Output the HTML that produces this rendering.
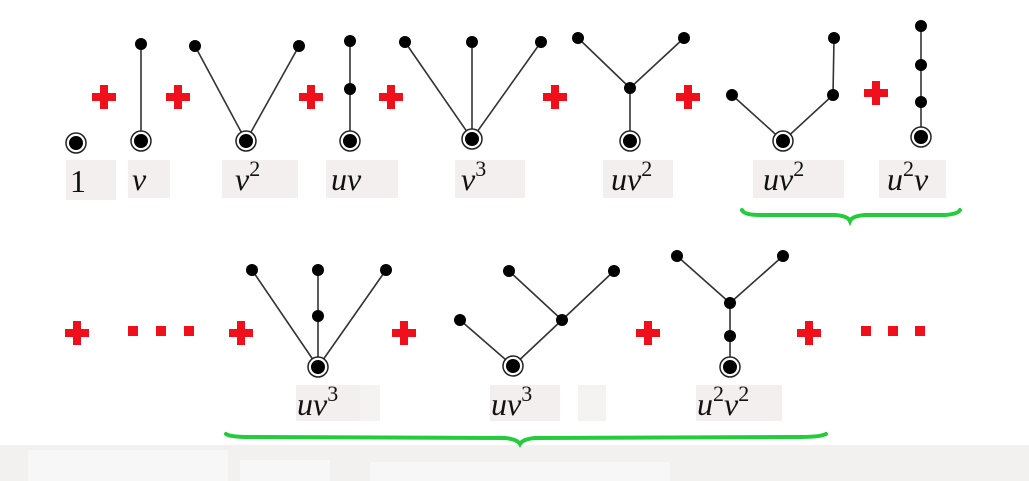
<!DOCTYPE html>
<html><head><meta charset="utf-8"><style>
html,body{margin:0;padding:0;background:#fff;}
svg{display:block;}
text{font-family:"Liberation Serif",serif;font-style:italic;font-size:32px;fill:#111;}
</style></head><body>
<svg width="1029" height="481" viewBox="0 0 1029 481" xmlns="http://www.w3.org/2000/svg">
<defs>
<g id="p"><rect x="-12" y="-4" width="24" height="8" fill="#f0101c"/><rect x="-4" y="-12" width="8" height="24" fill="#f0101c"/></g>
<g id="r"><circle r="10" fill="#fff" stroke="#222" stroke-width="1.5"/><circle r="7" fill="#000"/></g>
<g id="d"><rect x="-5" y="-5" width="10" height="10" fill="#f0101c"/></g>
</defs>
<rect x="0" y="445" width="1029" height="36" fill="#f3f0f0"/>
<rect x="28" y="450" width="200" height="31" fill="#f8f7f7"/>
<rect x="240" y="460" width="90" height="21" fill="#f8f7f7"/>
<rect x="370" y="462" width="300" height="19" fill="#f8f7f7"/>
<g fill="#f2efee">
<rect x="66" y="160" width="50" height="40"/>
<rect x="128" y="160" width="42" height="38"/>
<rect x="222" y="160" width="76" height="38"/>
<rect x="326" y="160" width="72" height="38"/>
<rect x="455" y="160" width="70" height="38"/>
<rect x="603" y="160" width="70" height="38"/>
<rect x="753" y="160" width="91" height="38"/>
<rect x="879" y="160" width="67" height="38"/>
<rect x="296" y="385" width="64" height="36"/>
<rect x="360" y="385" width="20" height="36" fill="#f5f2f2"/>
<rect x="490" y="385" width="70" height="36"/>
<rect x="578" y="385" width="28" height="36" fill="#f5f2f2"/>
<rect x="696" y="385" width="86" height="36"/>
</g>
<g stroke="#333" stroke-width="1.6" fill="none">
<line x1="141" y1="141" x2="141" y2="44"/>
<polyline points="195,46 246,141 299,46"/>
<line x1="350" y1="141" x2="350" y2="41"/>
<line x1="405" y1="42" x2="472" y2="139"/><line x1="472" y1="42" x2="472" y2="139"/><line x1="541" y1="42" x2="472" y2="139"/>
<polyline points="578,38 630,88 684,38"/><line x1="630" y1="88" x2="630" y2="141"/>
<polyline points="732,95 783,141 833,95 834,38"/>
<line x1="921" y1="137" x2="921" y2="26"/>
<line x1="252" y1="270" x2="318" y2="367"/><line x1="318" y1="270" x2="318" y2="367"/><line x1="386" y1="270" x2="318" y2="367"/>
<polyline points="460,320 513,366 562,320 614,271"/><line x1="509" y1="271" x2="562" y2="320"/>
<polyline points="677,256 730,303 783,256"/><line x1="730" y1="303" x2="730" y2="367"/>
</g>
<g fill="#000">
<circle cx="141" cy="44" r="6"/>
<circle cx="195" cy="46" r="6"/><circle cx="299" cy="46" r="6"/>
<circle cx="350" cy="41" r="6"/><circle cx="350" cy="89" r="6"/>
<circle cx="405" cy="42" r="6"/><circle cx="472" cy="42" r="6"/><circle cx="541" cy="42" r="6"/>
<circle cx="578" cy="38" r="6"/><circle cx="684" cy="38" r="6"/><circle cx="630" cy="88" r="6"/>
<circle cx="732" cy="95" r="6"/><circle cx="833" cy="95" r="6"/><circle cx="834" cy="38" r="6"/>
<circle cx="921" cy="26" r="6"/><circle cx="921" cy="65" r="6"/><circle cx="921" cy="102" r="6"/>
<circle cx="252" cy="270" r="6"/><circle cx="318" cy="270" r="6"/><circle cx="386" cy="270" r="6"/><circle cx="318" cy="316" r="6"/>
<circle cx="460" cy="320" r="6"/><circle cx="562" cy="320" r="6"/><circle cx="509" cy="271" r="6"/><circle cx="614" cy="271" r="6"/>
<circle cx="677" cy="256" r="6"/><circle cx="783" cy="256" r="6"/><circle cx="730" cy="303" r="6"/><circle cx="730" cy="336" r="6"/>
</g>
<use href="#r" x="76" y="143"/><use href="#r" x="141" y="141"/><use href="#r" x="246" y="141"/>
<use href="#r" x="350" y="141"/><use href="#r" x="472" y="139"/><use href="#r" x="630" y="141"/>
<use href="#r" x="783" y="141"/><use href="#r" x="921" y="137"/>
<use href="#r" x="318" y="367"/><use href="#r" x="513" y="366"/><use href="#r" x="730" y="367"/>
<use href="#p" x="104" y="97"/><use href="#p" x="178" y="97"/><use href="#p" x="311" y="97"/>
<use href="#p" x="391" y="97"/><use href="#p" x="555" y="97"/><use href="#p" x="688" y="97"/>
<use href="#p" x="876" y="93"/>
<use href="#p" x="77" y="333"/><use href="#p" x="241" y="333"/><use href="#p" x="404" y="333"/>
<use href="#p" x="648" y="333"/><use href="#p" x="809" y="333"/>
<use href="#d" x="133" y="331"/><use href="#d" x="161" y="331"/><use href="#d" x="189" y="331"/>
<use href="#d" x="866" y="331"/><use href="#d" x="893" y="331"/><use href="#d" x="920" y="331"/>
<text x="70" y="192" style="font-style:normal">1</text>
<text x="132" y="190">v</text>
<text x="235" y="190">v<tspan dy="-14" font-size="22" font-style="normal">2</tspan></text>
<text x="331" y="190">uv</text>
<text x="461" y="190">v<tspan dy="-14" font-size="22" font-style="normal">3</tspan></text>
<text x="611" y="190">uv<tspan dy="-14" font-size="22" font-style="normal">2</tspan></text>
<text x="763" y="190">uv<tspan dy="-14" font-size="22" font-style="normal">2</tspan></text>
<text x="887" y="190">u<tspan dy="-14" font-size="22" font-style="normal">2</tspan><tspan dy="14">v</tspan></text>
<text x="297" y="415">uv<tspan dy="-14" font-size="22" font-style="normal">3</tspan></text>
<text x="491" y="415">uv<tspan dy="-14" font-size="22" font-style="normal">3</tspan></text>
<text x="697" y="415">u<tspan dy="-14" font-size="22" font-style="normal">2</tspan><tspan dy="14">v</tspan><tspan dy="-14" font-size="22" font-style="normal">2</tspan></text>
<g stroke="#22cc3a" stroke-width="4" fill="none" stroke-linecap="round">
<path d="M742,210 Q744,215 760,215 L835,215 Q848,216 850,221 Q852,216 865,215 L945,215 Q958,214 960,210"/>
<path d="M226,434 Q230,437 250,437 L505,438 Q517,439 520,444 Q523,439 535,438 L800,437 Q820,437 826,434"/>
</g>
</svg>
</body></html>
